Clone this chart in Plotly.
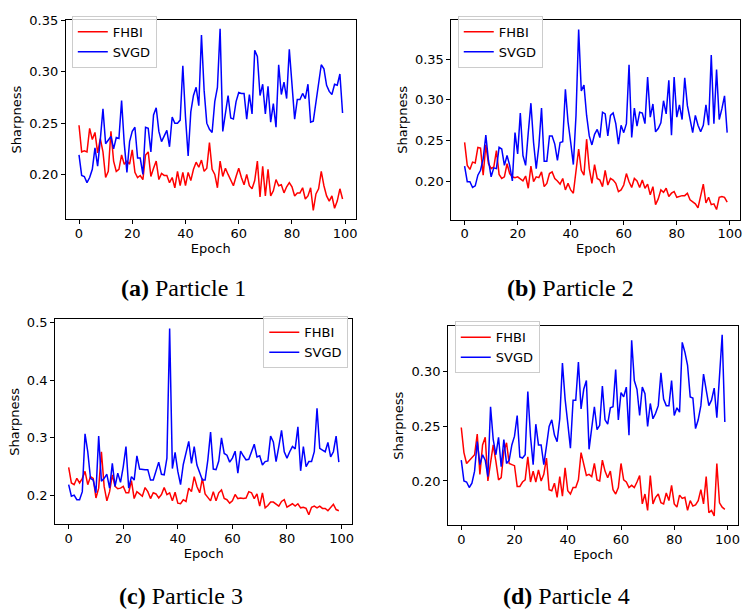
import plotly.graph_objects as go

W, H = 743, 609

epochs = list(range(100))

p1_fhbi = [0.248,0.222,0.223,0.222,0.245,0.234,0.241,0.221,0.235,0.222,
           0.197,0.203,0.242,0.213,0.203,0.205,0.219,0.210,0.213,0.210,
           0.224,0.202,0.197,0.199,0.195,0.219,0.222,0.198,0.206,0.213,
           0.195,0.201,0.199,0.199,0.192,0.197,0.187,0.203,0.189,0.202,
           0.189,0.202,0.194,0.205,0.212,0.207,0.214,0.203,0.206,0.231,
           0.205,0.200,0.187,0.213,0.198,0.206,0.200,0.194,0.189,0.198,
           0.206,0.197,0.190,0.200,0.189,0.186,0.194,0.213,0.178,0.208,
           0.179,0.205,0.179,0.184,0.195,0.189,0.190,0.182,0.188,0.192,
           0.188,0.179,0.182,0.182,0.187,0.176,0.179,0.187,0.165,0.181,
           0.186,0.203,0.189,0.179,0.174,0.179,0.167,0.174,0.186,0.176]
p1_svgd = [0.219,0.199,0.198,0.192,0.197,0.205,0.226,0.208,0.234,0.264,
           0.230,0.233,0.237,0.225,0.236,0.235,0.272,0.230,0.202,0.232,
           0.242,0.246,0.216,0.216,0.200,0.246,0.245,0.222,0.258,0.265,
           0.242,0.232,0.237,0.243,0.227,0.256,0.250,0.250,0.253,0.306,
           0.256,0.218,0.261,0.277,0.285,0.267,0.336,0.282,0.250,0.244,
           0.241,0.271,0.285,0.342,0.242,0.258,0.277,0.255,0.254,0.271,
           0.280,0.279,0.279,0.254,0.278,0.259,0.321,0.315,0.277,0.288,
           0.259,0.286,0.251,0.269,0.246,0.307,0.278,0.290,0.274,0.322,
           0.287,0.254,0.273,0.273,0.279,0.274,0.288,0.251,0.252,0.272,
           0.289,0.307,0.303,0.287,0.281,0.278,0.288,0.287,0.298,0.260]

p2_fhbi = [0.248,0.220,0.215,0.224,0.223,0.242,0.241,0.208,0.245,0.222,
           0.216,0.218,0.238,0.209,0.204,0.206,0.222,0.210,0.206,0.205,
           0.206,0.203,0.201,0.207,0.192,0.219,0.200,0.206,0.205,0.212,
           0.194,0.198,0.210,0.212,0.204,0.201,0.197,0.204,0.190,0.198,
           0.190,0.186,0.212,0.240,0.214,0.208,0.252,0.216,0.198,0.221,
           0.204,0.202,0.194,0.214,0.196,0.204,0.202,0.198,0.188,0.190,
           0.196,0.210,0.200,0.193,0.204,0.201,0.193,0.202,0.192,0.197,
           0.184,0.194,0.172,0.179,0.190,0.187,0.192,0.182,0.186,0.188,
           0.181,0.182,0.183,0.183,0.186,0.178,0.176,0.173,0.168,0.182,
           0.197,0.174,0.181,0.172,0.173,0.166,0.181,0.182,0.181,0.175]
p2_svgd = [0.219,0.200,0.200,0.193,0.195,0.208,0.214,0.228,0.257,0.226,
           0.206,0.217,0.216,0.242,0.240,0.220,0.232,0.220,0.201,0.260,
           0.234,0.284,0.232,0.220,0.260,0.296,0.248,0.216,0.244,0.290,
           0.225,0.225,0.256,0.256,0.246,0.226,0.248,0.249,0.313,0.273,
           0.248,0.221,0.281,0.386,0.311,0.318,0.281,0.256,0.245,0.258,
           0.264,0.254,0.285,0.283,0.256,0.281,0.284,0.271,0.246,0.269,
           0.260,0.271,0.343,0.254,0.290,0.268,0.285,0.284,0.271,0.328,
           0.279,0.295,0.261,0.265,0.272,0.299,0.283,0.324,0.257,0.328,
           0.279,0.294,0.276,0.327,0.293,0.277,0.260,0.281,0.269,0.261,
           0.269,0.294,0.269,0.355,0.271,0.337,0.276,0.289,0.305,0.260]

p3_fhbi = [0.249,0.222,0.219,0.230,0.222,0.230,0.242,0.219,0.233,0.230,
           0.196,0.213,0.276,0.216,0.191,0.207,0.236,0.216,0.212,0.213,
           0.216,0.205,0.205,0.226,0.195,0.207,0.203,0.199,0.214,0.207,
           0.195,0.205,0.203,0.196,0.202,0.214,0.202,0.205,0.191,0.206,
           0.187,0.186,0.193,0.190,0.213,0.207,0.233,0.216,0.205,0.230,
           0.203,0.196,0.191,0.207,0.191,0.205,0.210,0.195,0.193,0.187,
           0.191,0.202,0.195,0.196,0.195,0.196,0.207,0.205,0.195,0.203,
           0.182,0.205,0.179,0.183,0.189,0.189,0.186,0.182,0.190,0.193,
           0.180,0.183,0.186,0.182,0.186,0.179,0.180,0.178,0.167,0.180,
           0.182,0.179,0.182,0.178,0.178,0.174,0.179,0.185,0.176,0.174]
p3_svgd = [0.219,0.199,0.201,0.193,0.193,0.207,0.307,0.276,0.230,0.227,
           0.205,0.303,0.225,0.230,0.237,0.213,0.256,0.216,0.239,0.223,
           0.250,0.285,0.213,0.233,0.227,0.269,0.246,0.245,0.245,0.245,
           0.227,0.227,0.245,0.258,0.237,0.236,0.265,0.489,0.247,0.275,
           0.242,0.219,0.254,0.276,0.294,0.256,0.285,0.253,0.239,0.227,
           0.227,0.262,0.310,0.246,0.245,0.260,0.300,0.273,0.270,0.258,
           0.265,0.277,0.239,0.277,0.269,0.262,0.263,0.276,0.289,0.267,
           0.269,0.253,0.259,0.260,0.303,0.293,0.259,0.285,0.313,0.276,
           0.265,0.276,0.285,0.281,0.319,0.243,0.285,0.250,0.259,0.259,
           0.276,0.351,0.282,0.279,0.276,0.292,0.267,0.276,0.303,0.258]

p4_fhbi = [0.249,0.226,0.216,0.219,0.221,0.224,0.243,0.206,0.233,0.240,
           0.200,0.218,0.233,0.218,0.201,0.203,0.227,0.235,0.216,0.215,
           0.214,0.195,0.195,0.199,0.201,0.222,0.199,0.209,0.199,0.210,
           0.200,0.206,0.221,0.192,0.191,0.198,0.185,0.204,0.186,0.212,
           0.191,0.188,0.194,0.194,0.201,0.226,0.215,0.205,0.206,0.204,
           0.216,0.201,0.200,0.219,0.209,0.203,0.209,0.192,0.188,0.194,
           0.216,0.201,0.199,0.194,0.196,0.194,0.199,0.205,0.179,0.188,
           0.173,0.205,0.179,0.185,0.188,0.180,0.179,0.189,0.182,0.196,
           0.179,0.176,0.187,0.184,0.185,0.173,0.182,0.177,0.178,0.182,
           0.192,0.179,0.204,0.171,0.173,0.168,0.216,0.180,0.176,0.174]
p4_svgd = [0.219,0.200,0.199,0.194,0.198,0.209,0.236,0.215,0.224,0.219,
           0.204,0.268,0.238,0.224,0.240,0.213,0.238,0.216,0.219,0.233,
           0.241,0.260,0.222,0.221,0.224,0.282,0.241,0.215,0.252,0.233,
           0.233,0.215,0.232,0.250,0.256,0.242,0.236,0.257,0.308,0.275,
           0.253,0.230,0.274,0.274,0.309,0.266,0.284,0.292,0.229,0.250,
           0.268,0.247,0.251,0.287,0.256,0.252,0.267,0.268,0.302,0.256,
           0.281,0.277,0.286,0.242,0.329,0.292,0.284,0.260,0.286,0.280,
           0.250,0.271,0.257,0.262,0.269,0.299,0.275,0.269,0.269,0.292,
           0.260,0.267,0.263,0.327,0.318,0.306,0.277,0.276,0.248,0.256,
           0.269,0.298,0.284,0.269,0.274,0.285,0.258,0.295,0.334,0.254]

series_names = ["FHBI", "SVGD"]
captions = ["<b>(a)</b> Particle 1", "<b>(b)</b> Particle 2",
            "<b>(c)</b> Particle 3", "<b>(d)</b> Particle 4"]
x_ticks = [0, 20, 40, 60, 80, 100]
y_ticks = [[0.20, 0.25, 0.30, 0.35], [0.20, 0.25, 0.30, 0.35],
           [0.2, 0.3, 0.4, 0.5], [0.20, 0.25, 0.30]]

data = [(p1_fhbi, p1_svgd), (p2_fhbi, p2_svgd), (p3_fhbi, p3_svgd), (p4_fhbi, p4_svgd)]

# layout (pixel boxes of each panel: left, right, top, bottom)
boxes = [(66, 356.7, 13.3, 214.5), (452.7, 742.3, 13.3, 215.0),
         (55.3, 353.3, 316.0, 523.3), (449.3, 740.0, 322.7, 524.5)]
y_ranges = [(0.1565, 0.3505), (0.1538, 0.3975), (0.1505, 0.5050), (0.1592, 0.3420)]
y_fmt = [".2f", ".2f", ".1f", ".2f"]
legend_pos = [(72, 9), (459, 9), (264, 313), (456, 318)]
caption_pos = [(184, 284), (572, 284), (181, 596), (568, 596)]
colors = ["#ff0000", "#0000ff"]

font = dict(family="DejaVu Sans", size=13, color="black")

fig = go.Figure()
layout = dict(width=W, height=H, margin=dict(l=0, r=0, t=0, b=0),
              paper_bgcolor="white", plot_bgcolor="white", font=font,
              annotations=[])

for i, (fh, sv) in enumerate(data):
    k = "" if i == 0 else str(i + 1)
    leg = "legend" + k
    for name, ys, col in zip(series_names, (fh, sv), colors):
        fig.add_trace(go.Scatter(x=epochs, y=ys, mode="lines", name=name,
                                 line=dict(color=col, width=1.5),
                                 xaxis="x" + k, yaxis="y" + k, legend=leg))
    l, r, t, b = boxes[i]
    axis_common = dict(showline=True, mirror=True, linecolor="black", linewidth=1,
                       ticks="outside", ticklen=4, tickwidth=1, tickcolor="black",
                       showgrid=False, zeroline=False, tickfont=font)
    layout["xaxis" + k] = dict(domain=[l / W, r / W], range=[-4.95, 103.95],
                               tickvals=x_ticks, anchor="y" + k, ticklabelstandoff=-2,
                               title=dict(text="Epoch", font=font, standoff=2),
                               **axis_common)
    layout["yaxis" + k] = dict(domain=[1 - b / H, 1 - t / H], range=list(y_ranges[i]),
                               tickvals=y_ticks[i], tickformat=y_fmt[i], anchor="x" + k,
                               ticklabelstandoff=0,
                               title=dict(text="Sharpness", font=font, standoff=4),
                               **axis_common)
    lx, ly = legend_pos[i]
    layout[leg] = dict(x=lx / W, y=1 - ly / H, xanchor="left", yanchor="top",
                       bgcolor="rgba(255,255,255,0.8)", bordercolor="#cccccc",
                       borderwidth=1, font=font, itemwidth=30,
                       tracegroupgap=0)
    cx, cy = caption_pos[i]
    layout["annotations"].append(dict(text=captions[i], x=cx / W, y=1 - cy / H,
                                      xref="paper", yref="paper", showarrow=False,
                                      xanchor="center", yanchor="middle",
                                      font=dict(family="Liberation Serif", size=24,
                                                color="black")))

fig.update_layout(**layout)
fig.write_html("out.html", config={"displayModeBar": False},
               post_script="document.body.style.margin='0';"
                           "document.body.style.overflow='hidden';")
